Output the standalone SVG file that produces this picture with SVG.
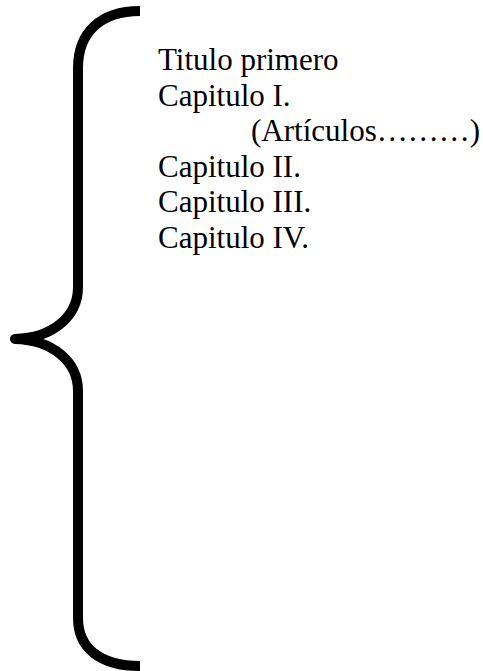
<svg xmlns="http://www.w3.org/2000/svg" width="483" height="671" viewBox="0 0 483 671">
<style>
.t{font-family:"Liberation Serif","Times New Roman",serif;font-size:31px;fill:#000}
.brace{fill:none;stroke:#000;stroke-width:10;stroke-linejoin:round;stroke-linecap:butt}
</style>
<rect width="483" height="671" fill="#fff"/>
<g id="connectors">
<path id="brace" class="brace" d="M140,11 C100,11 78,33 78,68 L78,287 C78,317 52,338 15,339 C52,340 78,361 78,391 L78,618 C78,648 100,666 140,666"/>
</g>
<g id="text-block">
<text class="t" x="158" y="70">Titulo primero</text>
<text class="t" x="158" y="105.6">Capitulo I.</text>
<text class="t" x="251" y="141.2">(Artículos………)</text>
<text class="t" x="158" y="176.8">Capitulo II.</text>
<text class="t" x="158" y="212.4">Capitulo III.</text>
<text class="t" x="158" y="248">Capitulo IV.</text>
</g>
</svg>
